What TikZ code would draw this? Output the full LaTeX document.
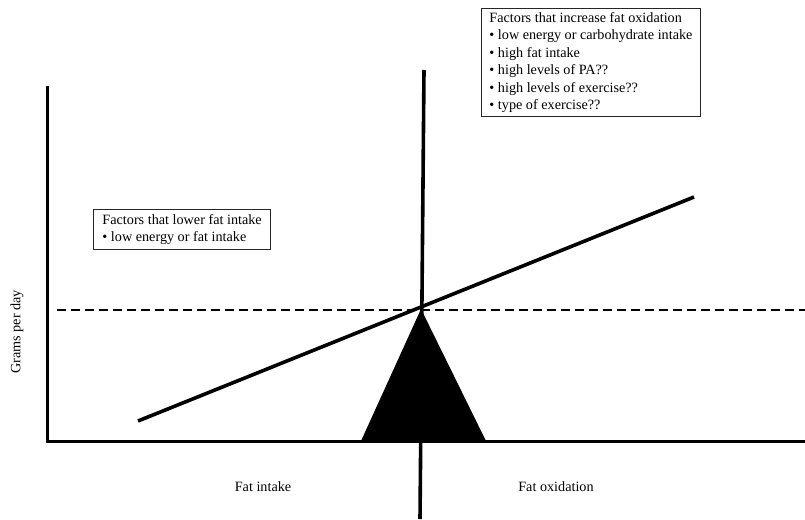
\documentclass[tikz,border=0pt]{standalone}
\usepackage{fontspec}
\setmainfont{Liberation Serif}
\begin{document}
\begin{tikzpicture}[x=1pt,y=-1pt,
  axis/.style={line width=3pt},
  thickline/.style={line width=3.6pt},
  infobox/.style={draw=black!85,line width=0.9pt,align=left,inner xsep=8pt,inner ysep=4pt,font=\fontsize{14.2}{17.4}\selectfont},
  lbl/.style={font=\fontsize{14.2}{17}\selectfont}]
\useasboundingbox (0,0) rectangle (805,519);
% coordinates
\coordinate (ytop) at (47,87);
\coordinate (origin) at (47,441);
\coordinate (xend) at (805,441);
\coordinate (vtop) at (424,70);
\coordinate (vbot) at (420,519);
\coordinate (sl) at (138,421);
\coordinate (sr) at (694,197);
\coordinate (dl) at (57,310);
\coordinate (dr) at (805,310);
\coordinate (apex) at (421,309);
\coordinate (bl) at (361,441);
\coordinate (br) at (486,441);
% triangle
\fill (apex) -- (br) -- (bl) -- cycle;
% dashed
\draw[line width=1.4pt,dash pattern=on 9pt off 5pt] (dl) -- (dr);
% axes
\draw[axis,line cap=rect] (ytop) -- (origin) -- (xend);
% central vertical
\draw[thickline] (vtop) -- (vbot);
% sloped line
\draw[thickline] (sl) -- (sr);
% boxes
\node[infobox,anchor=north west] (inc) at (481,8) {Factors that increase fat oxidation\\
• low energy or carbohydrate intake\\
• high fat intake\\
• high levels of PA??\\
• high levels of exercise??\\
• type of exercise??};
\node[infobox,anchor=north west,inner xsep=9pt,inner ysep=5pt] (low) at (93,209) {Factors that lower fat intake\\
• low energy or fat intake};
% labels
\node[lbl,rotate=90] (ylab) at (17,332) {Grams per day};
\node[lbl] (fi) at (263,487) {Fat intake};
\node[lbl] (fo) at (556,487) {Fat oxidation};
\end{tikzpicture}
\end{document}
